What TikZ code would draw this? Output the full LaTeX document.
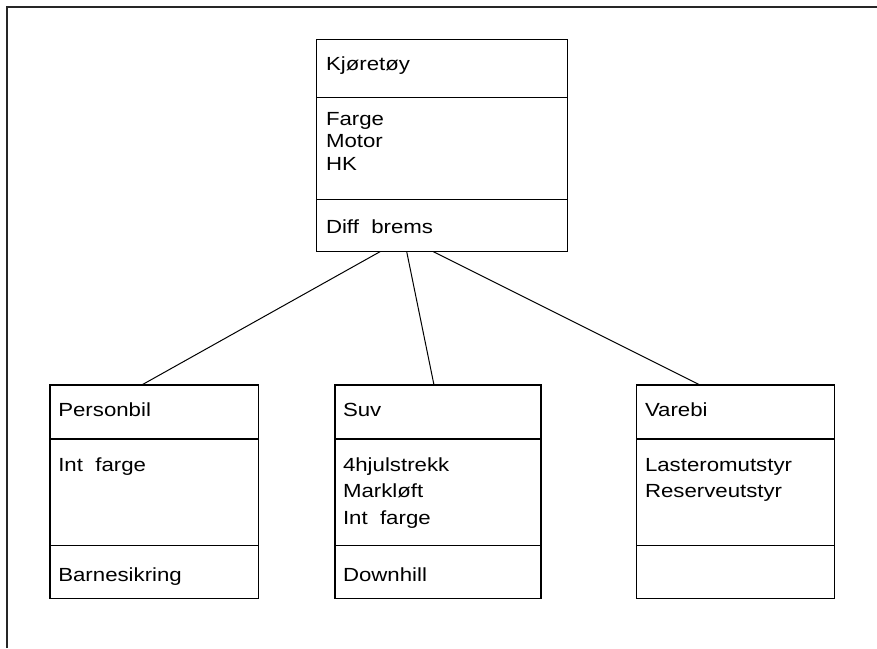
\documentclass[tikz,border=0pt]{standalone}
\usepackage{fontspec}
\setmainfont{Liberation Sans}[FakeStretch=1.17]
\begin{document}
\begin{tikzpicture}[x=1pt,y=-1pt,
  classbox/.style={draw=black, line width=1.3pt, rectangle, inner sep=0pt, outer sep=0pt, anchor=north west},
  divider/.style={draw=black, line width=1.3pt},
  txt/.style={anchor=base west, inner sep=0pt, outer sep=0pt, font=\fontsize{19}{22}\selectfont},
  link/.style={draw=black, line width=1pt},
  frame/.style={draw=black!85, line width=2pt}]
\useasboundingbox (0,0) rectangle (877,648);

% page frame (open to the right and bottom)
\draw[frame] (7,648) -- (7,7) -- (877,7);

% superclass
\node[classbox, minimum width=251pt, minimum height=212.4pt] (kjt) at (316.7,39.3) {};
\draw[divider] ([yshift=-58.4pt]kjt.north west) -- ([yshift=-58.4pt]kjt.north east);
\draw[divider] ([yshift=-160pt]kjt.north west) -- ([yshift=-160pt]kjt.north east);
\node[txt] (kjtname) at (326,70.7) {Kjøretøy};
\node[txt] (kjta1) at (326,125) {Farge};
\node[txt] (kjta2) at (326,147.5) {Motor};
\node[txt] (kjta3) at (326,170) {HK};
\node[txt] (kjtm1) at (326,233) {Diff~~brems};

% subclass: Personbil
\node[classbox, minimum width=208.3pt, minimum height=213.3pt] (pb) at (50,385) {};
\draw[divider] ([yshift=-54pt]pb.north west) -- ([yshift=-54pt]pb.north east);
\draw[divider] ([yshift=-160.7pt]pb.north west) -- ([yshift=-160.7pt]pb.north east);
\node[txt] (pbname) at (58.3,416) {Personbil};
\node[txt] (pba1) at (58.3,471) {Int~~farge};
\node[txt] (pbm1) at (58.3,581.5) {Barnesikring};

% subclass: Suv
\node[classbox, minimum width=206pt, minimum height=213.3pt] (suv) at (335,385) {};
\draw[divider] ([yshift=-54pt]suv.north west) -- ([yshift=-54pt]suv.north east);
\draw[divider] ([yshift=-160.7pt]suv.north west) -- ([yshift=-160.7pt]suv.north east);
\node[txt] (suvname) at (343,416) {Suv};
\node[txt] (suva1) at (343,471) {4hjulstrekk};
\node[txt] (suva2) at (343,497.5) {Markløft};
\node[txt] (suva3) at (343,524) {Int~~farge};
\node[txt] (suvm1) at (343,581.5) {Downhill};

% subclass: Varebi
\node[classbox, minimum width=197.6pt, minimum height=213.3pt] (vb) at (636.7,385) {};
\draw[divider] ([yshift=-54pt]vb.north west) -- ([yshift=-54pt]vb.north east);
\draw[divider] ([yshift=-160.7pt]vb.north west) -- ([yshift=-160.7pt]vb.north east);
\node[txt] (vbname) at (645,416) {Varebi};
\node[txt] (vba1) at (645,471) {Lasteromutstyr};
\node[txt] (vba2) at (645,497.5) {Reserveutstyr};

% generalisation links
\draw[link] ([xshift=63.3pt]kjt.south west) -- ([xshift=91.7pt]pb.north west);
\draw[link] ([xshift=90pt]kjt.south west) -- ([xshift=99pt]suv.north west);
\draw[link] ([xshift=116.6pt]kjt.south west) -- ([xshift=63.3pt]vb.north west);
\end{tikzpicture}
\end{document}
